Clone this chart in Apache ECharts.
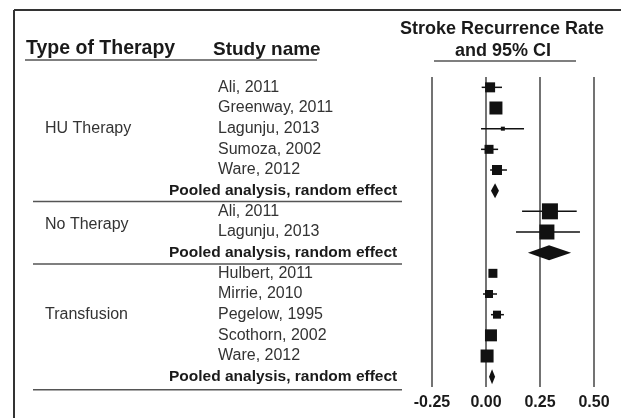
<!DOCTYPE html>
<html>
<head>
<meta charset="utf-8">
<script src="https://cdn.jsdelivr.net/npm/echarts@6/dist/echarts.min.js"></script>
<style>
html, body { margin: 0; padding: 0; background: #fff; }
#chart { width: 621px; height: 418px; }
</style>
</head>
<body>
<div id="chart"></div>
<script>
// therapy groups and the row they are printed on
const therapyTypes = ['HU Therapy', 'No Therapy', 'Transfusion']
const therapyRows = [2, 6.65, 11]

// one entry per row, top to bottom
const studyNames = [
    'Ali, 2011', 'Greenway, 2011', 'Lagunju, 2013', 'Sumoza, 2002', 'Ware, 2012',
    'Pooled analysis, random effect',
    'Ali, 2011', 'Lagunju, 2013',
    'Pooled analysis, random effect',
    'Hulbert, 2011', 'Mirrie, 2010', 'Pegelow, 1995', 'Scothorn, 2002', 'Ware, 2012',
    'Pooled analysis, random effect',
]
const isPooled = [0, 0, 0, 0, 0, 1, 0, 0, 1, 0, 0, 0, 0, 0, 1]
const rates = [0.019, 0.046, 0.078, 0.014, 0.051, 0.042, 0.296, 0.282, 0.292, 0.032, 0.014, 0.051, 0.023, 0.005, 0.028]
const lower = [-0.020, 0.030, -0.023, -0.023, 0.019, 0.023, 0.167, 0.139, 0.194, 0.018, -0.014, 0.023, 0.000, -0.020, 0.014]
const upper = [0.074, 0.062, 0.176, 0.056, 0.097, 0.060, 0.420, 0.435, 0.394, 0.046, 0.051, 0.083, 0.046, 0.030, 0.042]
// relative study weight (square side)
const weights = [10, 13, 4, 9, 10, 0, 16, 15, 0, 9, 8, 8, 12, 13, 0]

// rule lines below each group, in row units
const separatorRows = [5.52, 8.55, 14.63]

const xTicks = [-0.25, 0, 0.25, 0.5]

const FONT = '"Liberation Sans", Arial, sans-serif'
const INK = '#111'

const chart = echarts.init(document.getElementById('chart'), null, { renderer: 'canvas' })

const rowY = (api, r) => api.coord([0, r])[1]

chart.setOption({
    backgroundColor: '#fff',
    animation: false,
    grid: { left: 432, right: 27, top: 77, bottom: 31 },
    xAxis: {
        type: 'value',
        min: xTicks[0],
        max: xTicks[xTicks.length - 1],
        interval: xTicks[1] - xTicks[0],
        axisLine: { show: false },
        axisTick: { show: false },
        splitLine: { show: true, lineStyle: { color: '#444', width: 1.5 } },
        axisLabel: {
            margin: 8,
            fontFamily: FONT,
            fontSize: 16,
            fontWeight: 'bold',
            color: '#1a1a1a',
            formatter: v => v.toFixed(2),
        },
    },
    yAxis: {
        type: 'value',
        inverse: true,
        min: -0.5,
        max: studyNames.length - 0.5,
        show: false,
    },
    graphic: [
        // frame (cropped on right and bottom)
        { type: 'line', shape: { x1: 14, y1: 10, x2: 621, y2: 10 }, style: { stroke: '#333', lineWidth: 2 } },
        { type: 'line', shape: { x1: 14, y1: 10, x2: 14, y2: 418 }, style: { stroke: '#333', lineWidth: 2 } },
        // headers
        { type: 'text', x: 26, y: 49, style: { text: 'Type of Therapy', font: 'bold 19.5px ' + FONT, fill: '#1a1a1a', verticalAlign: 'middle' } },
        { type: 'text', x: 213, y: 50, style: { text: 'Study name', font: 'bold 19px ' + FONT, fill: '#1a1a1a', verticalAlign: 'middle' } },
        { type: 'text', x: 502, y: 29, style: { text: 'Stroke Recurrence Rate', font: 'bold 18px ' + FONT, fill: '#1a1a1a', align: 'center', verticalAlign: 'middle' } },
        { type: 'text', x: 503, y: 51, style: { text: 'and 95% CI', font: 'bold 18px ' + FONT, fill: '#1a1a1a', align: 'center', verticalAlign: 'middle' } },
        { type: 'line', shape: { x1: 25, y1: 60, x2: 317, y2: 60 }, style: { stroke: '#555', lineWidth: 1.5 } },
        { type: 'line', shape: { x1: 434, y1: 61, x2: 576, y2: 61 }, style: { stroke: '#555', lineWidth: 1.5 } },
    ],
    series: [
        {
            // confidence intervals, study squares and pooled diamonds
            type: 'custom',
            clip: false,
            data: studyNames.map((n, i) => [i, rates[i], lower[i], upper[i], weights[i], isPooled[i]]),
            renderItem: (params, api) => {
                const r = api.value(0)
                const c = api.coord([api.value(1), r])
                const lo = api.coord([api.value(2), r])
                const hi = api.coord([api.value(3), r])
                if (api.value(5)) {
                    const h = 15
                    return {
                        type: 'polygon',
                        shape: { points: [[lo[0], c[1]], [c[0], c[1] - h / 2], [hi[0], c[1]], [c[0], c[1] + h / 2]] },
                        style: { fill: INK },
                    }
                }
                const w = api.value(4)
                return {
                    type: 'group',
                    children: [
                        { type: 'line', shape: { x1: lo[0], y1: c[1], x2: hi[0], y2: c[1] }, style: { stroke: INK, lineWidth: 1.5 } },
                        { type: 'rect', shape: { x: c[0] - w / 2, y: c[1] - w / 2, width: w, height: w }, style: { fill: INK } },
                    ],
                }
            },
        },
        {
            // study names column
            type: 'custom',
            clip: false,
            data: studyNames.map((n, i) => [0, i]),
            renderItem: (params, api) => {
                const i = params.dataIndex
                const pooled = isPooled[i]
                return {
                    type: 'text',
                    x: pooled ? 169 : 218,
                    y: rowY(api, api.value(1)),
                    style: {
                        text: studyNames[i],
                        font: (pooled ? 'bold 15.5px ' : '16px ') + FONT,
                        fill: pooled ? '#1a1a1a' : '#333',
                        verticalAlign: 'middle',
                    },
                }
            },
        },
        {
            // therapy type column
            type: 'custom',
            clip: false,
            data: therapyTypes.map((t, i) => [0, therapyRows[i]]),
            renderItem: (params, api) => ({
                type: 'text',
                x: 45,
                y: rowY(api, api.value(1)),
                style: { text: therapyTypes[params.dataIndex], font: '16px ' + FONT, fill: '#333', verticalAlign: 'middle' },
            }),
        },
        {
            // group separators
            type: 'custom',
            clip: false,
            data: separatorRows.map(r => [0, r]),
            renderItem: (params, api) => {
                const y = rowY(api, api.value(1))
                return { type: 'line', shape: { x1: 33, y1: y, x2: 402, y2: y }, style: { stroke: '#555', lineWidth: 1.5 } }
            },
        },
    ],
})
</script>
</body>
</html>
